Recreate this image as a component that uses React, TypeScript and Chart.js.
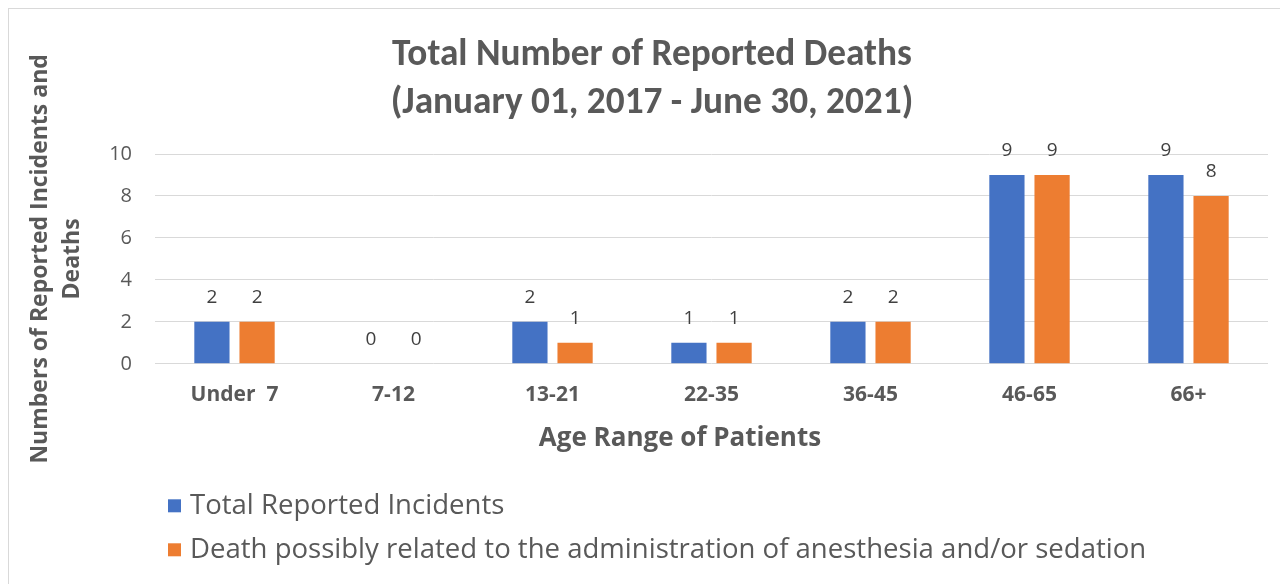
import React, { useEffect, useRef } from "react";
import { Chart, registerables } from "chart.js";

Chart.register(...registerables);

const categories = ["Under  7", "7-12", "13-21", "22-35", "36-45", "46-65", "66+"];
const totalIncidents = [2, 0, 2, 1, 2, 9, 9];
const deathsAnesthesia = [2, 0, 1, 1, 2, 9, 8];
const seriesNames = [
  "Total Reported Incidents",
  "Death possibly related to the administration of anesthesia and/or sedation",
];
const seriesColors = ["#4472C4", "#ED7D31"];
const yMin = 0;
const yMax = 10;
const yStep = 2;
const titleLines = ["Total Number of Reported Deaths", "(January 01, 2017 - June 30, 2021)"];
const yTitleLines = ["Numbers of Reported Incidents and", "Deaths"];
const xTitleText = "Age Range of Patients";

const TEXT = "#595959";

function fontAvailable(family: string): boolean {
  const c = document.createElement("canvas").getContext("2d")!;
  const probe = "mmmmmmmmmmlliWW0123";
  for (const base of ["monospace", "serif"]) {
    c.font = `bold 40px ${base}`;
    const w0 = c.measureText(probe).width;
    c.font = `bold 40px "${family}", ${base}`;
    const w1 = c.measureText(probe).width;
    if (Math.abs(w0 - w1) > 0.5) return true;
  }
  return false;
}

function fitSize(text: string, fontSpec: (s: number) => string, target: number): number {
  const c = document.createElement("canvas").getContext("2d")!;
  c.font = fontSpec(100);
  const w = c.measureText(text).width;
  return (100 * target) / w;
}

export default function App() {
  const ref = useRef<HTMLCanvasElement | null>(null);

  useEffect(() => {
    if (!ref.current) return;

    const titleFamily =
      ["Carlito", "Liberation Sans Narrow", "Open Sans"].find((f) => fontAvailable(f)) || "Open Sans";
    const titleSize = fitSize(titleLines[0], (s) => `bold ${s}px "${titleFamily}"`, 520);
    const legendSize = fitSize(seriesNames[1], (s) => `${s}px "Open Sans"`, 957);

    const chartTexts = {
      id: "chartTexts",
      afterDraw(chart: any) {
        const ctx = chart.ctx;
        ctx.save();
        ctx.fillStyle = TEXT;
        ctx.textAlign = "center";
        ctx.textBaseline = "middle";
        ctx.font = `bold ${titleSize}px "${titleFamily}"`;
        titleLines.forEach((line, i) => {
          ctx.fillText(line, 643, 47 + i * 48);
        });
        ctx.font = 'bold 26px "Open Sans"';
        ctx.fillText(xTitleText, 671, chart.chartArea.bottom + 75);
        ctx.restore();
      },
    };

    const valueLabels = {
      id: "valueLabels",
      afterDatasetsDraw(chart: any) {
        const ctx = chart.ctx;
        ctx.save();
        ctx.font = '19px "Open Sans"';
        ctx.fillStyle = "#404040";
        ctx.textAlign = "center";
        ctx.textBaseline = "middle";
        chart.data.datasets.forEach((ds: any, i: number) => {
          chart.getDatasetMeta(i).data.forEach((el: any, j: number) => {
            ctx.fillText(String(ds.data[j]), el.x, el.y - 24);
          });
        });
        ctx.restore();
      },
    };

    const bottomLegend = {
      id: "bottomLegend",
      afterDraw(chart: any) {
        const ctx = chart.ctx;
        ctx.save();
        ctx.font = `${legendSize}px "Open Sans"`;
        ctx.textAlign = "left";
        ctx.textBaseline = "middle";
        const x0 = chart.chartArea.left + 13;
        const rows = [chart.chartArea.bottom + 142, chart.chartArea.bottom + 186];
        chart.data.datasets.forEach((ds: any, i: number) => {
          const y = rows[i];
          ctx.fillStyle = ds.backgroundColor;
          ctx.fillRect(x0, y - 6.5, 13, 13);
          ctx.fillStyle = TEXT;
          ctx.fillText(ds.label, x0 + 22, y);
        });
        ctx.restore();
      },
    };

    const chart = new Chart(ref.current, {
      type: "bar",
      data: {
        labels: categories,
        datasets: [
          {
            label: seriesNames[0],
            data: totalIncidents,
            backgroundColor: seriesColors[0],
            categoryPercentage: 0.568,
            barPercentage: 0.78,
          },
          {
            label: seriesNames[1],
            data: deathsAnesthesia,
            backgroundColor: seriesColors[1],
            categoryPercentage: 0.568,
            barPercentage: 0.78,
          },
        ],
      },
      options: {
        responsive: false,
        animation: false,
        layout: { padding: { left: 0, right: 20, top: 145, bottom: 165 } },
        plugins: {
          legend: { display: false },
          tooltip: { enabled: false },
          title: { display: false },
        },
        scales: {
          x: {
            grid: { display: false },
            border: { display: false },
            ticks: {
              color: TEXT,
              padding: 11,
              font: { family: "Open Sans", size: 21, weight: "bold" },
              maxRotation: 0,
              autoSkip: false,
            },
            title: { display: false },
          },
          y: {
            min: yMin,
            max: yMax,
            afterFit(scale: any) {
              scale.width = 146;
            },
            grid: { color: "#D9D9D9", lineWidth: 1, drawTicks: false },
            border: { display: false },
            ticks: {
              stepSize: yStep,
              color: TEXT,
              padding: 23,
              font: { family: "Open Sans", size: 20 },
            },
            title: {
              display: true,
              text: yTitleLines,
              color: TEXT,
              font: { family: "Open Sans", size: 23, weight: "bold", lineHeight: "32px" },
              padding: { top: 15, bottom: 0 },
            },
          },
        },
      },
      plugins: [valueLabels, bottomLegend, chartTexts],
    });

    return () => chart.destroy();
  }, []);

  return (
    <div
      style={{
        width: 1279,
        height: 575,
        borderLeft: "1px solid #D9D9D9",
        borderTop: "1px solid #D9D9D9",
        background: "#FFFFFF",
      }}
    >
      <canvas ref={ref} width={1279} height={575} style={{ display: "block" }} />
    </div>
  );
}
